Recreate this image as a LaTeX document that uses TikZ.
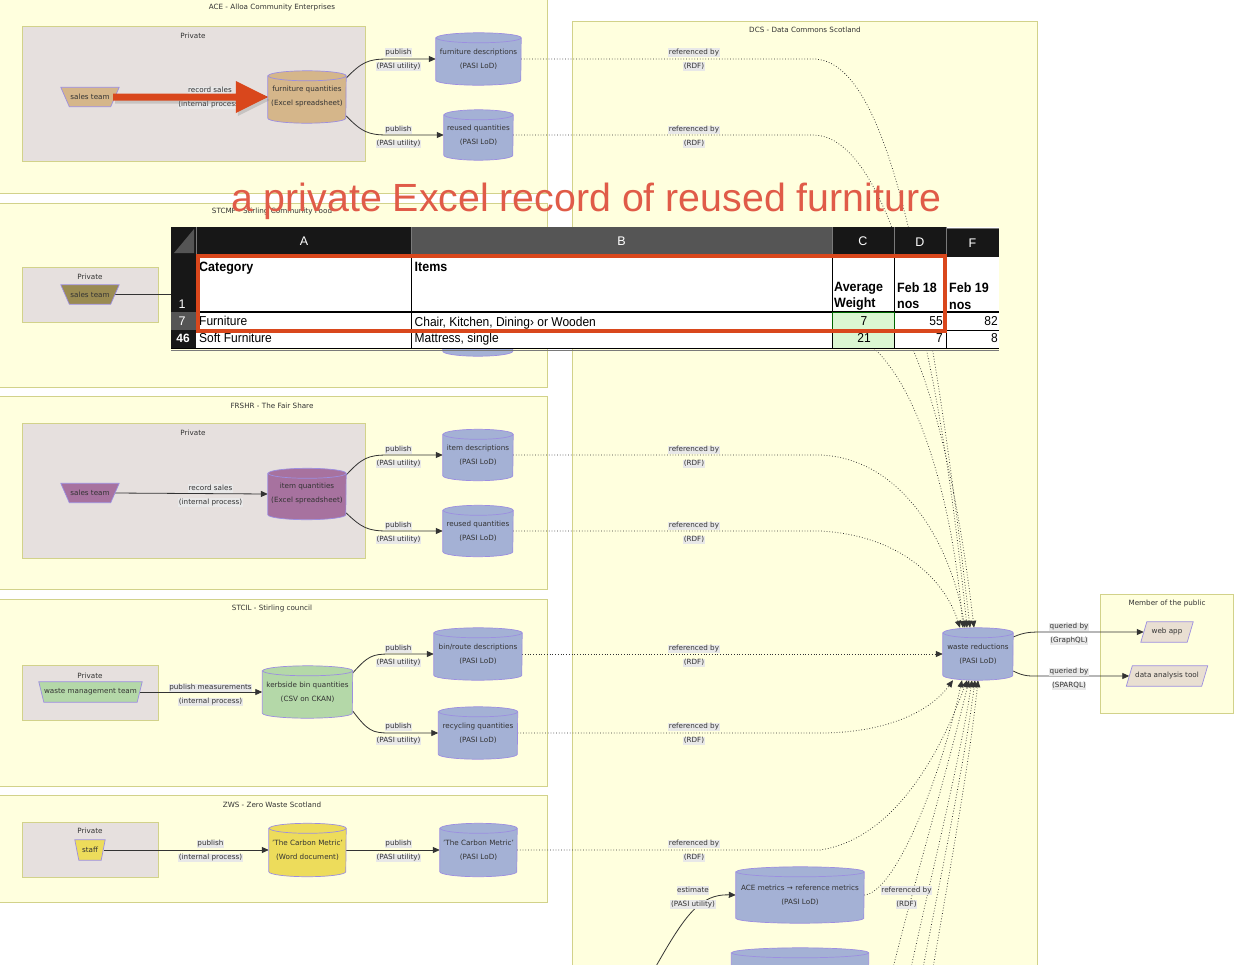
\documentclass[tikz,border=0pt]{standalone}
\usepackage{fontspec}
\setmainfont{DejaVu Sans}
\newfontfamily\xlfont{Liberation Sans}
\usetikzlibrary{arrows.meta,shadows}
\pgfdeclarelayer{clus}
\pgfdeclarelayer{edges}
\pgfdeclarelayer{shapes}
\pgfdeclarelayer{front}
\pgfsetlayers{clus,edges,shapes,main,front}
\definecolor{clfill}{HTML}{FFFFDE}
\definecolor{clline}{HTML}{D2D28A}
\definecolor{prfill}{HTML}{E6E0DE}
\definecolor{lodblue}{HTML}{A4B1D5}
\definecolor{nodeline}{HTML}{9C8EE0}
\definecolor{cTan}{HTML}{D5B68A}
\definecolor{cPurple}{HTML}{A7729F}
\definecolor{cGreen}{HTML}{B4D8A8}
\definecolor{cYellow}{HTML}{EDDC5B}
\definecolor{cOlive}{HTML}{9A8B52}
\definecolor{cBeige}{HTML}{E9DFD2}
\definecolor{cRed}{HTML}{D9471C}
\definecolor{cTitle}{HTML}{E05B48}
\definecolor{ink}{HTML}{333333}
\definecolor{lblbg}{HTML}{E8E8E8}
\definecolor{xlhead}{HTML}{171717}
\definecolor{xlgrey}{HTML}{555555}
\definecolor{xlgreen}{HTML}{DBF7D2}
\definecolor{xlsep}{HTML}{7A7A7A}
\newcommand\tall[1]{\scalebox{1}[1.08]{#1}}
\newcommand\Cyl[6]{%
  \node[txt, minimum width=#3, minimum height=#4] (#1) at #2 {#6};
  \begin{pgfonlayer}{shapes}
  \path[cyl, fill=#5] ([yshift=-5pt]#1.north west) -- ([yshift=5pt]#1.south west)
    arc[start angle=180,end angle=360,x radius=#3/2,y radius=5pt]
    -- ([yshift=-5pt]#1.north east)
    arc[start angle=0,end angle=180,x radius=#3/2,y radius=5pt] -- cycle;
  \draw[cyl] ([yshift=-5pt]#1.north east) arc[start angle=0,end angle=-180,x radius=#3/2,y radius=5pt];
  \end{pgfonlayer}}
\newcommand\Trap[7]{%
  \node[txt, minimum width=#3, minimum height=#4] (#1) at #2 {#7};
  \begin{pgfonlayer}{shapes}
  \path[cyl, fill=#5] ([xshift=-#6]#1.north west) -- ([xshift=#6]#1.north east) -- (#1.south east) -- (#1.south west) -- cycle;
  \end{pgfonlayer}}
\newcommand\Para[6]{%
  \node[txt, minimum width=#3, minimum height=#4] (#1) at #2 {#6};
  \begin{pgfonlayer}{shapes}
  \path[cyl, fill=#5] ([xshift=3pt]#1.north west) -- ([xshift=3pt]#1.north east) -- ([xshift=-3pt]#1.south east) -- ([xshift=-3pt]#1.south west) -- cycle;
  \end{pgfonlayer}}
\newcommand\Elab[5]{%
  \node[lbl] (#1a) at (#2,#3-7) {#4};
  \node[lbl] (#1b) at (#2,#3+7) {#5};}
\begin{document}
\begin{tikzpicture}[x=1pt,y=-1pt,
  txt/.style={font=\fontsize{7.2}{14}\selectfont, text=ink, align=center, inner sep=0pt},
  lbl/.style={font=\fontsize{7.2}{8}\selectfont, text=ink, fill=lblbg, inner sep=0.6pt, text height=5.3pt, text depth=1.6pt},
  ctitle/.style={font=\fontsize{7.2}{8}\selectfont, text=ink, inner sep=0pt},
  clus/.style={draw=clline, fill=clfill, line width=0.8pt},
  priv/.style={draw=clline, fill=prfill, line width=0.8pt},
  cyl/.style={draw=nodeline, line width=0.7pt},
  flow/.style={draw=ink, line width=0.8pt, -{Triangle[length=7pt,width=6pt]}},
  plain/.style={draw=ink, line width=0.9pt},
  ref/.style={draw=ink, line width=0.75pt, dotted, -{Triangle[length=7pt,width=6pt]}},
  xl/.style={font=\xlfont\fontsize{12}{14}\selectfont, inner sep=0pt, text=black},
  xlb/.style={font=\xlfont\bfseries\fontsize{12.5}{14}\selectfont, inner sep=0pt, text=black},
  xlh/.style={font=\xlfont\fontsize{12.5}{13}\selectfont, inner sep=0pt, text=white}]
\useasboundingbox (0,0) rectangle (1239,964);

% ---------------- clusters
\begin{pgfonlayer}{clus}
\path[clus] (-2,-5) rectangle (547,193);
\path[priv] (22,26) rectangle (365,161);
\path[clus] (-2,203) rectangle (547,387);
\path[priv] (22,267) rectangle (158,322);
\path[clus] (-2,396) rectangle (547,589);
\path[priv] (22,423) rectangle (365,558);
\path[clus] (-2,599) rectangle (547,786);
\path[priv] (22,665) rectangle (158,720);
\path[clus] (-2,795) rectangle (547,902);
\path[priv] (22,822) rectangle (158,877);
\path[clus] (572,21) rectangle (1037,975);
\path[clus] (1100,594) rectangle (1233,713);
\end{pgfonlayer}
\node[ctitle] (tACE) at (272,8) {ACE - Alloa Community Enterprises};
\node[ctitle] (pACE) at (193,35.5) {Private};
\node[ctitle] (tSTC) at (272,212) {STCMF - Stirling Community Food};
\node[ctitle] (pSTC) at (90,277) {Private};
\node[ctitle] (tFR) at (272,406) {FRSHR - The Fair Share};
\node[ctitle] (pFR) at (193,433) {Private};
\node[ctitle] (tSC) at (272,609) {STCIL - Stirling council};
\node[ctitle] (pSC) at (90,676) {Private};
\node[ctitle] (tZW) at (272,805) {ZWS - Zero Waste Scotland};
\node[ctitle] (pZW) at (90,831) {Private};
\node[ctitle] (tDC) at (805,30) {DCS - Data Commons Scotland};
\node[ctitle] (tMP) at (1167,604) {Member of the public};

% ---------------- nodes
\Trap{aceST}{(90,97)}{41pt}{19pt}{cTan}{8.5pt}{sales team}
\Cyl{aceFQ}{(307,97)}{78pt}{52pt}{cTan}{furniture quantities\\(Excel spreadsheet)}
\Cyl{aceFD}{(478.5,59)}{85pt}{52pt}{lodblue}{furniture descriptions\\(PASI LoD)}
\Cyl{aceRQ}{(478.5,135)}{69pt}{50pt}{lodblue}{reused quantities\\(PASI LoD)}

\Trap{stST}{(90,294.5)}{41pt}{19pt}{cOlive}{8.5pt}{sales team}
\Cyl{stRQ}{(478,331)}{70pt}{50pt}{lodblue}{}

\Trap{frST}{(90,493)}{41pt}{19pt}{cPurple}{8.5pt}{sales team}
\Cyl{frIQ}{(307,494)}{78pt}{51pt}{cPurple}{item quantities\\(Excel spreadsheet)}
\Cyl{frID}{(478,455)}{70pt}{51pt}{lodblue}{item descriptions\\(PASI LoD)}
\Cyl{frRQ}{(478,531)}{70pt}{51pt}{lodblue}{reused quantities\\(PASI LoD)}

\Trap{scWM}{(90.5,692)}{93pt}{20pt}{cGreen}{5pt}{waste management team}
\Cyl{scKB}{(307.5,692)}{90pt}{52pt}{cGreen}{kerbside bin quantities\\(CSV on CKAN)}
\Cyl{scBR}{(478,654)}{88pt}{52pt}{lodblue}{bin/route descriptions\\(PASI LoD)}
\Cyl{scRC}{(478,733)}{79pt}{52pt}{lodblue}{recycling quantities\\(PASI LoD)}

\Trap{zwST}{(90,850)}{22pt}{20pt}{cYellow}{4pt}{staff}
\Cyl{zwWD}{(307.5,850)}{77pt}{53pt}{cYellow}{'The Carbon Metric'\\(Word document)}
\Cyl{zwCM}{(478.5,850)}{77pt}{53pt}{lodblue}{'The Carbon Metric'\\(PASI LoD)}

\Cyl{dcWR}{(978,654)}{70pt}{52pt}{lodblue}{waste reductions\\(PASI LoD)}
\Cyl{dcAM}{(800,895)}{128pt}{56pt}{lodblue}{ACE metrics → reference metrics\\(PASI LoD)}
\Cyl{dcBot}{(800,990)}{137pt}{84pt}{lodblue}{}

\Para{web}{(1167,632)}{46pt}{20pt}{cBeige}{web app}
\Para{dat}{(1167,676)}{75pt}{20pt}{cBeige}{data analysis tool}

\coordinate (stQ) at (185,294.5);
\coordinate (stA) at (513,255);
\coordinate (b1) at (893,968);
\coordinate (b2) at (911,968);
\coordinate (b3) at (923,968);
\coordinate (b4) at (933,968);
\coordinate (eS) at (655,968);

% ---------------- edges
\begin{pgfonlayer}{edges}
% ACE
\draw[flow] ([xshift=4pt]aceST.east) -- (aceFQ.west);
\draw[flow] ([yshift=19pt]aceFQ.east) .. controls (362,62) and (368,59) .. (388,59) -- (aceFD.west);
\draw[flow] ([yshift=-19pt]aceFQ.east) .. controls (362,132) and (368,135) .. (388,135) -- (aceRQ.west);
\draw[ref] (aceFD.east) -- (813,59) .. controls (880,59) and (925,230) .. ([xshift=-8pt]dcWR.north);
\draw[ref] (aceRQ.east) -- (813,135) .. controls (870,135) and (930,260) .. ([xshift=-11pt]dcWR.north);
% STCMF
\draw[plain] ([xshift=4pt]stST.east) -- (stQ);
\draw[ref] (stA) -- (820,255) .. controls (890,255) and (945,380) .. ([xshift=-4pt]dcWR.north);
\draw[ref] (stRQ.east) -- (835,331) .. controls (900,331) and (950,470) .. ([xshift=-15pt]dcWR.north);
% FRSHR
\draw[flow] ([xshift=4pt]frST.east) -- (frIQ.west);
\draw[flow] ([yshift=19pt]frIQ.east) .. controls (362,458) and (368,455) .. (388,455) -- (frID.west);
\draw[flow] ([yshift=-19pt]frIQ.east) .. controls (362,528) and (368,531) .. (388,531) -- (frRQ.west);
\draw[ref] (frID.east) -- (820,455) .. controls (900,458) and (950,540) .. ([xshift=-13pt]dcWR.north);
\draw[ref] (frRQ.east) -- (820,531) .. controls (900,535) and (945,580) .. ([xshift=-18pt]dcWR.north);
% STCIL
\draw[flow] ([xshift=3pt]scWM.east) -- (scKB.west);
\draw[flow] ([yshift=19pt]scKB.east) .. controls (368,656) and (372,654) .. (390,654) -- (scBR.west);
\draw[flow] ([yshift=-19pt]scKB.east) .. controls (368,731) and (372,733) .. (390,733) -- (scRC.west);
\draw[ref] (scBR.east) -- (dcWR.west);
\draw[ref] (scRC.east) -- (820,733) .. controls (885,733) and (930,712) .. ([xshift=-25pt]dcWR.south);
% ZWS
\draw[flow] ([xshift=3pt]zwST.east) -- (zwWD.west);
\draw[flow] (zwWD.east) -- (zwCM.west);
\draw[ref] (zwCM.east) -- (820,850) .. controls (900,838) and (945,740) .. ([xshift=-11pt]dcWR.south);
% DCS
\draw[flow] (eS) .. controls (685,915) and (700,894) .. (dcAM.west);
\draw[ref] (dcAM.east) .. controls (895,893) and (940,780) .. ([xshift=-16pt]dcWR.south);
\draw[ref] (b1) .. controls (915,880) and (950,760) .. ([xshift=-9pt]dcWR.south);
\draw[ref] (b2) .. controls (930,880) and (960,760) .. ([xshift=-6pt]dcWR.south);
\draw[ref] (b3) .. controls (940,880) and (965,760) .. ([xshift=-3pt]dcWR.south);
\draw[ref] (b4) .. controls (948,880) and (970,760) .. (dcWR.south);
% public
\draw[flow] ([yshift=17pt]dcWR.east) .. controls (1025,632) and (1030,632) .. (1045,632) -- (web.west);
\draw[flow] ([yshift=-17pt]dcWR.east) .. controls (1025,677) and (1030,676) .. (1045,676) -- (dat.west);
\end{pgfonlayer}

% ---------------- edge labels
\Elab{lA1}{210}{98}{record sales}{(internal process)}
\Elab{lA2}{398.5}{59.5}{publish}{(PASI utility)}
\Elab{lA3}{398.5}{137}{publish}{(PASI utility)}
\Elab{lF1}{210.5}{495.5}{record sales}{(internal process)}
\Elab{lF2}{398.5}{457}{publish}{(PASI utility)}
\Elab{lF3}{398.5}{533}{publish}{(PASI utility)}
\Elab{lS1}{210.5}{695}{publish measurements}{(internal process)}
\Elab{lS2}{398.5}{656}{publish}{(PASI utility)}
\Elab{lS3}{398.5}{734}{publish}{(PASI utility)}
\Elab{lZ1}{210.5}{851}{publish}{(internal process)}
\Elab{lZ2}{398.5}{851}{publish}{(PASI utility)}
\Elab{rA1}{694}{59.5}{referenced by}{(RDF)}
\Elab{rA2}{694}{137}{referenced by}{(RDF)}
\Elab{rF1}{694}{457}{referenced by}{(RDF)}
\Elab{rF2}{694}{533}{referenced by}{(RDF)}
\Elab{rS1}{694}{656}{referenced by}{(RDF)}
\Elab{rS2}{694}{734}{referenced by}{(RDF)}
\Elab{rZ1}{694}{851}{referenced by}{(RDF)}
\Elab{eM}{693}{897.5}{estimate}{(PASI utility)}
\Elab{rM}{906.5}{897.5}{referenced by}{(RDF)}
\Elab{q1}{1069}{634}{queried by}{(GraphQL)}
\Elab{q2}{1069}{679}{queried by}{(SPARQL)}

% ---------------- overlay
\begin{pgfonlayer}{front}
\coordinate (raS) at ([xshift=2.5pt]aceST.east);
\coordinate (raE) at (aceFQ.west);
\fill[cRed, drop shadow={shadow xshift=2pt, shadow yshift=-3pt, opacity=0.3}]
  ([yshift=3.5pt]raS) -- ([yshift=3.5pt,xshift=-32pt]raE) -- ([yshift=16pt,xshift=-32pt]raE)
  -- (raE) -- ([yshift=-16pt,xshift=-32pt]raE) -- ([yshift=-3.5pt,xshift=-32pt]raE)
  -- ([yshift=-3.5pt]raS) -- cycle;

\node[anchor=base west, font=\xlfont\fontsize{39.3}{40}\selectfont, text=cTitle, inner sep=0pt] (title) at (231,211) {a private Excel record of reused furniture};

% spreadsheet
\fill[white] (171,227) rectangle (999,349);
\fill[xlhead] (171,227) rectangle (196,255);
\fill[xlgrey] (194,229) -- (194,253) -- (174,253) -- cycle;
\fill[xlhead] (196,227) rectangle (411,255);
\fill[xlgrey] (411,227) rectangle (832,255);
\fill[xlhead] (832,227) rectangle (894,255);
\fill[xlhead] (894,227) rectangle (946,256);
\fill[xlhead] (946,229) rectangle (999,257);
\draw[xlsep, line width=0.8pt] (196,227) -- (196,255) (411,227) -- (411,255) (832,227) -- (832,255) (894,227) -- (894,256) (946,227) -- (946,257);
\draw[xlsep, line width=1pt] (946,228) -- (999,228);
\fill[xlhead] (171,255) rectangle (196,312);
\fill[xlgrey] (171,312) rectangle (196,330);
\fill[xlhead] (171,330) rectangle (196,349);
\fill[xlgreen] (832,312) rectangle (894,348);
\draw[black, line width=0.7pt] (411,255) -- (411,348) (832,255) -- (832,348) (894,256) -- (894,348) (946,257) -- (946,348);
\draw[black, line width=1.1pt] (196,312) -- (999,312);
\draw[black, line width=0.7pt] (196,330) -- (999,330);
\draw[black, line width=0.9pt] (171,348) -- (999,348);
\draw[xlsep, line width=1pt] (171,350) -- (999,350);
\draw[black!60!green, line width=0.7pt] (832,312) rectangle (894,330);

\node[xlh] (hA) at (304,241.5) {A};
\node[xlh] (hB) at (621.5,241.5) {B};
\node[xlh] (hC) at (863,241.5) {C};
\node[xlh] (hD) at (920,242) {D};
\node[xlh] (hF) at (972.5,243.5) {F};
\node[xlh, anchor=base] (r1) at (182,308) {1};
\node[xlh, anchor=base] (r7) at (182,325.5) {7};
\node[xlh, anchor=base, font=\xlfont\bfseries\fontsize{12}{12}\selectfont] (r46) at (183,342.5) {46};

\node[xlb, anchor=base west] (cCat) at (199,271) {\tall{Category}};
\node[xlb, anchor=base west] (cIt) at (414.5,271) {\tall{Items}};
\node[xlb, anchor=base west] (cAv) at (834,291.5) {\tall{Average}};
\node[xlb, anchor=base west] (cWe) at (834,307.5) {\tall{Weight}};
\node[xlb, anchor=base west] (cF18) at (897,292) {\tall{Feb 18}};
\node[xlb, anchor=base west] (cN1) at (897,308) {\tall{nos}};
\node[xlb, anchor=base west] (cF19) at (949,292.5) {\tall{Feb 19}};
\node[xlb, anchor=base west] (cN2) at (949,309) {\tall{nos}};

\node[xl, anchor=base west] (c7a) at (199,325.5) {\tall{Furniture}};
\node[xl, anchor=base west] (c7b) at (414.5,326) {\tall{Chair, Kitchen, Dining› or Wooden}};
\node[xl, anchor=base] (c7c) at (864,325.5) {\tall{7}};
\node[xl, anchor=base east] (c7d) at (943,325.5) {\tall{55}};
\node[xl, anchor=base east] (c7f) at (998,325.5) {\tall{82}};
\node[xl, anchor=base west] (c46a) at (199,342.5) {\tall{Soft Furniture}};
\node[xl, anchor=base west] (c46b) at (414.5,342.5) {\tall{Mattress, single}};
\node[xl, anchor=base] (c46c) at (864,342.5) {\tall{21}};
\node[xl, anchor=base east] (c46d) at (943,342.5) {\tall{7}};
\node[xl, anchor=base east] (c46f) at (998,342.5) {\tall{8}};

\draw[cRed, line width=4pt] (197.5,255.5) rectangle (945,331);
\end{pgfonlayer}
\end{tikzpicture}
\end{document}
